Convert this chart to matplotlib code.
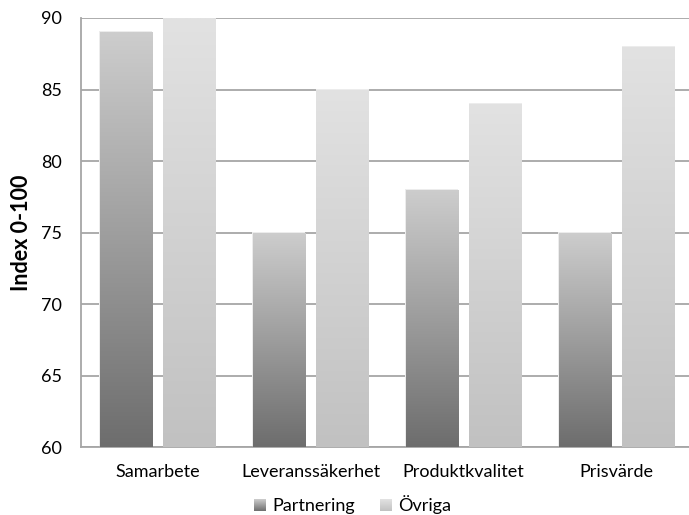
import numpy as np
import matplotlib
matplotlib.use("Agg")
import matplotlib.pyplot as plt
from matplotlib.patches import Rectangle
from matplotlib.colors import LinearSegmentedColormap
from matplotlib.legend_handler import HandlerBase

categories = ["Samarbete", "Leveranssäkerhet", "Produktkvalitet", "Prisvärde"]
partnering = [89, 75, 78, 75]
ovriga = [90, 85, 84, 88]
series_names = ["Partnering", "Övriga"]
yticks = [60, 65, 70, 75, 80, 85, 90]

plt.rcParams["font.family"] = ["Lato", "DejaVu Sans"]

# gradient ramps: bottom colour -> top colour
ramps = {
    "Partnering": ("#6d6d6d", "#cdcdcd"),
    "Övriga": ("#c1c1c1", "#e2e2e2"),
}
cmaps = {k: LinearSegmentedColormap.from_list(k, v) for k, v in ramps.items()}

fig = plt.figure(figsize=(6.89, 5.15), dpi=100)
ax = fig.add_axes([81 / 689, 68 / 515, 608 / 689, 429 / 515])

ymin, ymax = 60, 90
x = np.arange(len(categories))
width = 0.34
offset = 0.209

grad = np.linspace(0, 1, 256).reshape(-1, 1)

def gradient_bars(xpos, values, name):
    bars = ax.bar(xpos, [v - ymin for v in values], width, bottom=ymin,
                  facecolor="none", edgecolor="none", zorder=3)
    for b in bars:
        x0, y0 = b.get_x(), b.get_y()
        w, h = b.get_width(), b.get_height()
        # soft shadow outline
        ax.add_patch(Rectangle((x0 - 0.006, y0), w + 0.012, h + 0.06,
                               facecolor="#ececec", edgecolor="none", zorder=2.5))
        im = ax.imshow(grad, cmap=cmaps[name], origin="lower", aspect="auto",
                       extent=(x0, x0 + w, y0, y0 + h), zorder=3,
                       interpolation="bilinear")
        im.set_clip_path(b)
    return bars

gradient_bars(x - offset, partnering, "Partnering")
gradient_bars(x + offset, ovriga, "Övriga")

ax.set_xlim(-0.5, -0.5 + 608 / 153)
ax.set_ylim(ymin, ymax)

ax.set_yticks(yticks)
ax.set_yticklabels([str(t) for t in yticks], fontsize=13)
ax.set_xticks(x)
ax.set_xticklabels(categories, fontsize=13)
ax.tick_params(axis="both", length=0)
ax.tick_params(axis="y", pad=14)
ax.tick_params(axis="x", pad=12)

ax.yaxis.grid(True, color="#a6a6a6", linewidth=1.3, zorder=1)
ax.set_axisbelow(True)
for side in ["top", "right"]:
    ax.spines[side].set_visible(False)
for side in ["left", "bottom"]:
    ax.spines[side].set_color("#a6a6a6")
    ax.spines[side].set_linewidth(1.3)

ax.set_ylabel("Index 0-100", fontsize=15.5, fontweight="bold", labelpad=6)


class GradientHandler(HandlerBase):
    def create_artists(self, legend, orig_handle, xdescent, ydescent,
                       width, height, fontsize, trans):
        cmap = cmaps[orig_handle.get_label()]
        n = 12
        side = height * 0.95
        artists = []
        for i in range(n):
            artists.append(Rectangle((-xdescent + (width - side) / 2,
                                      -ydescent + side * i / n),
                                     side, side / n + 0.1,
                                     facecolor=cmap((i + 0.5) / n),
                                     edgecolor="none", transform=trans))
        return artists


handles = [Rectangle((0, 0), 1, 1, label=n) for n in series_names]
fig.legend(handles=handles, labels=series_names, loc="lower center",
           bbox_to_anchor=(352 / 689, 0.0), ncol=2, frameon=False,
           fontsize=13, handler_map={Rectangle: GradientHandler()},
           handlelength=0.8, handletextpad=0.3, columnspacing=1.3,
           borderaxespad=0.0, borderpad=0.05)

fig.savefig("out.png", dpi=100)
